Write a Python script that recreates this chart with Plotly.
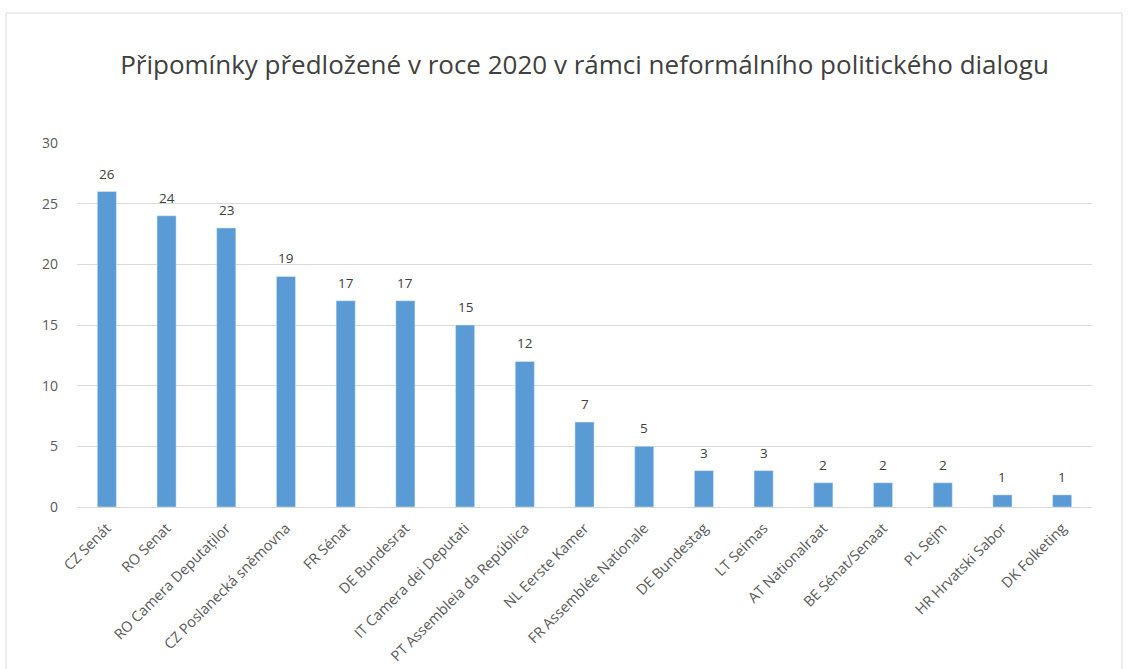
import plotly.graph_objects as go

categories = ["CZ Senát", "RO Senat", "RO Camera Deputaților", "CZ Poslanecká sněmovna",
              "FR Sénat", "DE Bundesrat", "IT Camera dei Deputati", "PT Assembleia da República",
              "NL Eerste Kamer", "FR Assemblée Nationale", "DE Bundestag", "LT Seimas",
              "AT Nationalraat", "BE Sénat/Senaat", "PL Sejm", "HR Hrvatski Sabor", "DK Folketing"]
values = [26, 24, 23, 19, 17, 17, 15, 12, 7, 5, 3, 3, 2, 2, 2, 1, 1]
y_ticks = [0, 5, 10, 15, 20, 25, 30]
title = "Připomínky předložené v roce 2020 v rámci neformálního politického dialogu"

W, H = 1129, 669
L, T = 77, 143
pr, pb = 1092, 507
R = W - pr
B = H - pb
pw, ph = pr - L, pb - T

fig = go.Figure(go.Bar(
    x=categories, y=values, marker_color="#5b9bd5",
    hoverinfo="x+y",
))

for c, v in zip(categories, values):
    fig.add_annotation(x=c, y=v, text=str(v), showarrow=False, yanchor="bottom",
                       yshift=7, font=dict(size=13.5, color="#404040", family="Open Sans"))

def px_x(p):
    return (p - L) / pw

def px_y(p):
    return (pb - p) / ph

fig.add_shape(type="rect", xref="paper", yref="paper",
              x0=px_x(6), x1=px_x(1122), y0=px_y(690), y1=px_y(13),
              line=dict(color="#d9d9d9", width=1), fillcolor="rgba(0,0,0,0)", layer="below")

fig.update_layout(
    width=W, height=H,
    margin=dict(l=L, r=R, t=T, b=B, autoexpand=False),
    paper_bgcolor="white", plot_bgcolor="white",
    bargap=0.68,
    showlegend=False,
    title=dict(text=title, x=0.5, xanchor="center", xref="paper",
               y=1 - 65 / H, yanchor="middle",
               font=dict(size=26, color="#404040", family="Open Sans")),
    font=dict(family="Open Sans", color="#595959"),
)
fig.update_xaxes(tickangle=-45, tickfont=dict(size=14.5, color="#595959"),
                 showline=True, linecolor="#d9d9d9", ticks="", showgrid=False,
                 ticklabelstandoff=6)
fig.update_yaxes(range=[0, 30], tickvals=y_ticks, gridcolor="#d9d9d9",
                 tickfont=dict(size=14, color="#595959"), zeroline=False,
                 showline=False, ticklabelstandoff=18)

fig.write_html("out.html", config={"displayModeBar": False},
               post_script="document.body.style.margin='0';document.body.style.overflow='hidden';")
